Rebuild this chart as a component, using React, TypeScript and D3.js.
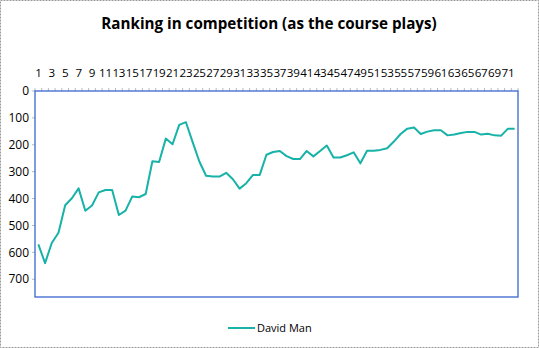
import React from "react";
import * as d3 from "d3";

const title = "Ranking in competition (as the course plays)";
const seriesName = "David Man";
const holes = d3.range(1, 73);
const ranks = [
  570, 640, 565, 527, 425, 399, 362, 445, 426, 377,
  368, 368, 461, 445, 392, 395, 383, 261, 264, 177,
  198, 126, 116, 190, 262, 315, 318, 318, 304, 328,
  363, 343, 312, 312, 237, 227, 223, 242, 253, 253,
  223, 243, 223, 203, 247, 247, 239, 228, 269, 222,
  222, 219, 213, 188, 160, 140, 136, 160, 151, 146,
  146, 165, 162, 156, 152, 152, 162, 159, 165, 166,
  140, 140,
];
const yTicks = [0, 100, 200, 300, 400, 500, 600, 700];
const yMax = 766;

const W = 539;
const H = 348;
const left = 35;
const right = 518;
const top = 91;
const bottom = 297;
const lineColor = "#17B2A8";
const axisBlue = "#3B66D0";
const font = "'Open Sans', 'Noto Sans', sans-serif";

export default function App() {
  const x = d3
    .scaleBand<number>()
    .domain(holes)
    .range([left, right]);
  const y = d3.scaleLinear().domain([0, yMax]).range([top, bottom]);
  const line = d3
    .line<number>()
    .x((_, i) => (x(holes[i]) as number) + x.bandwidth() / 2)
    .y((d) => y(d));

  const boundaries = holes.map((h) => x(h) as number).concat([right]);

  return (
    <svg
      width={W}
      height={H}
      style={{ position: "absolute", left: 0, top: 0, background: "#fff" }}
    >
      <rect
        x={0.5}
        y={0.5}
        width={W - 1}
        height={H - 1}
        fill="#fff"
        stroke="#9a9a9a"
        strokeDasharray="2,1"
      />
      <text
        x={269}
        y={29}
        textAnchor="middle"
        fontFamily={font}
        fontWeight="bold"
        fontSize={15.2}
        fill="#000"
      >
        {title}
      </text>

      {/* top category ticks */}
      {boundaries.map((b, i) => (
        <line
          key={"t" + i}
          x1={b}
          x2={b}
          y1={top - 3}
          y2={top}
          stroke="#aaa"
          strokeWidth={0.8}
        />
      ))}
      {holes
        .filter((h) => h % 2 === 1)
        .map((h) => (
          <text
            key={"xl" + h}
            x={(x(h) as number) + x.bandwidth() / 2}
            y={77}
            textAnchor="middle"
            fontFamily={font}
            fontSize={11.6}
            letterSpacing={-0.2}
            fill="#000"
          >
            {h}
          </text>
        ))}

      {/* y ticks and labels */}
      {yTicks.map((t) => (
        <g key={"y" + t}>
          <line
            x1={left - 3}
            x2={left}
            y1={y(t)}
            y2={y(t)}
            stroke="#aaa"
            strokeWidth={0.8}
          />
          <text
            x={29}
            y={y(t) + 4.2}
            textAnchor="end"
            fontFamily={font}
            fontSize={12}
            fill="#000"
          >
            {t}
          </text>
        </g>
      ))}

      {/* plot area border */}
      <rect
        x={left}
        y={top}
        width={right - left}
        height={bottom - top}
        fill="none"
        stroke={axisBlue}
        strokeWidth={1.3}
      />

      <path
        d={line(ranks) || ""}
        fill="none"
        stroke={lineColor}
        strokeWidth={2}
        strokeLinejoin="round"
      />

      {/* legend */}
      <line
        x1={228}
        x2={255}
        y1={328}
        y2={328}
        stroke={lineColor}
        strokeWidth={2}
      />
      <text
        x={257}
        y={332}
        fontFamily={font}
        fontSize={11}
        fill="#000"
      >
        {seriesName}
      </text>
    </svg>
  );
}
